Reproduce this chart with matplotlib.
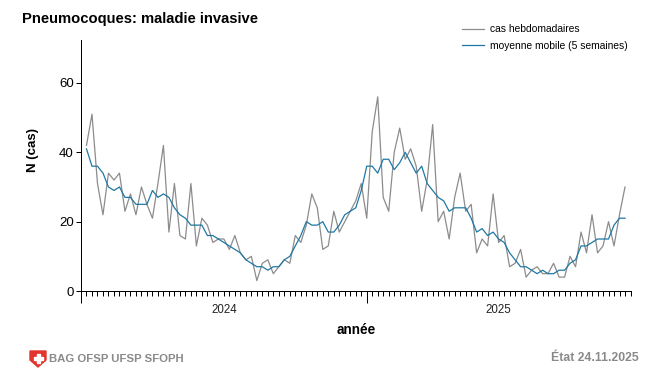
import numpy as np
import matplotlib
matplotlib.use("Agg")
import matplotlib.pyplot as plt
from matplotlib.patches import Polygon, Rectangle

# --- Données ---
cas = [42, 51, 31, 22, 34, 32, 34, 23, 28, 22, 30, 25, 21, 31, 42, 17, 31, 16, 15, 31, 13, 21, 19, 14, 15,
       15, 12, 16, 11, 9, 10, 3, 8, 9, 5, 7, 9, 8, 16, 14, 19, 28, 24, 12, 13, 23, 17, 20, 23, 26,
       31, 21, 46, 56, 27, 23, 40, 47, 38, 41, 36, 23, 32, 48, 20, 23, 15, 27, 34, 23, 25, 11, 15, 13, 28, 14,
       16, 7, 8, 12, 4, 6, 7, 5, 5, 8, 4, 4, 10, 7, 17, 11, 22, 11, 13, 20, 13, 22, 30]
moyenne = [41, 36, 36, 34, 30, 29, 30, 27, 27, 25, 25, 25, 29, 27, 28, 27, 24, 22, 21, 19, 19, 19, 16, 16, 15,
           14, 13, 12, 11, 9, 8, 7, 7, 6, 7, 7, 9, 10, 13, 16, 20, 19, 19, 20, 17, 17, 19, 22, 23, 24,
           29, 36, 36, 34, 38, 38, 35, 37, 40, 37, 34, 36, 31, 29, 27, 26, 23, 24, 24, 24, 21, 17, 18, 16, 17, 15,
           14, 11, 9, 7, 7, 6, 5, 6, 5, 5, 6, 6, 8, 9, 13, 13, 14, 15, 15, 15, 19, 21, 21]
y_ticks = [0, 20, 40, 60]
annees = ["2024", "2025"]
debut_annees = [0, 52, 100]

W, H = 650, 368
PX = 0.72  # un pixel en points
plt.rcParams['font.family'] = ['Liberation Sans', 'DejaVu Sans']

fig = plt.figure(figsize=(W / 100, H / 100), dpi=100)
ax = fig.add_axes([81 / W, (H - 291) / H, 549.5 / W, 251 / H])

semaines = np.arange(1, len(cas) + 1)
ax.plot(semaines, cas, color='#8c8c8c', lw=0.9, label='cas hebdomadaires')
ax.plot(semaines, moyenne, color='#1f78a4', lw=0.9, label='moyenne mobile (5 semaines)')

ax.set_xlim(0, 100)
ax.set_ylim(0, 72.4)
ax.spines['top'].set_visible(False)
ax.spines['right'].set_visible(False)
ax.spines['left'].set_linewidth(PX)
ax.spines['bottom'].set_linewidth(PX)

ax.set_yticks(y_ticks)
ax.tick_params(axis='y', length=5 * PX, width=PX, labelsize=9.5, pad=1.5)
ax.set_xticks(debut_annees[:2])
ax.set_xticklabels([])
ax.set_xticks(np.arange(0, 101), minor=True)
ax.tick_params(axis='x', which='major', length=12 * PX, width=PX)
ax.tick_params(axis='x', which='minor', length=5 * PX, width=PX)

# étiquettes des années centrées sous chaque période
for i, annee in enumerate(annees):
    milieu = (debut_annees[i] + debut_annees[i + 1]) / 2
    ax.annotate(annee, (milieu, 0), xycoords=('data', 'axes fraction'), xytext=(0, -9.5),
                textcoords='offset points', ha='center', va='top', fontsize=8.3, color='#222222')

fig.text(22 / W, 1 - 19.5 / H, 'Pneumocoques: maladie invasive', fontsize=10.6, fontweight='bold', va='center')
fig.text(33 / W, 1 - 150 / H, 'N (cas)', fontsize=9.5, fontweight='bold', rotation=90, ha='center', va='center')
fig.text(356.5 / W, 1 - 329.5 / H, 'année', fontsize=9.8, fontweight='bold', ha='center', va='center')

leg = fig.legend(loc='upper left', bbox_to_anchor=(462 / W, 1 - 24.5 / H), frameon=False, fontsize=7.4,
                 handlelength=2.14, handletextpad=0.58, labelspacing=0.62, borderpad=0, borderaxespad=0)

# --- Pied de page ---
fig.text(49 / W, 1 - 358.5 / H, 'BAG OFSP UFSP SFOPH', fontsize=8.2, fontweight='bold', color='#8a8a8a', va='center')
fig.text(638.5 / W, 1 - 358 / H, 'État 24.11.2025', fontsize=8.8, fontweight='bold', color='#8a8a8a', ha='right', va='center')

# écusson suisse
px = fig.transFigure
ecusson = [(30, 351), (46, 351), (46, 360), (38, 367), (30, 360)]
fig.add_artist(Polygon([(x / W, 1 - y / H) for x, y in ecusson], closed=True, color='#e2352c', transform=px))
fig.add_artist(Rectangle((36.5 / W, 1 - 363 / H), 3 / W, 9 / H, color='white', transform=px))
fig.add_artist(Rectangle((33.5 / W, 1 - 360 / H), 9 / W, 3 / H, color='white', transform=px))

plt.savefig('out.png', dpi=100)
